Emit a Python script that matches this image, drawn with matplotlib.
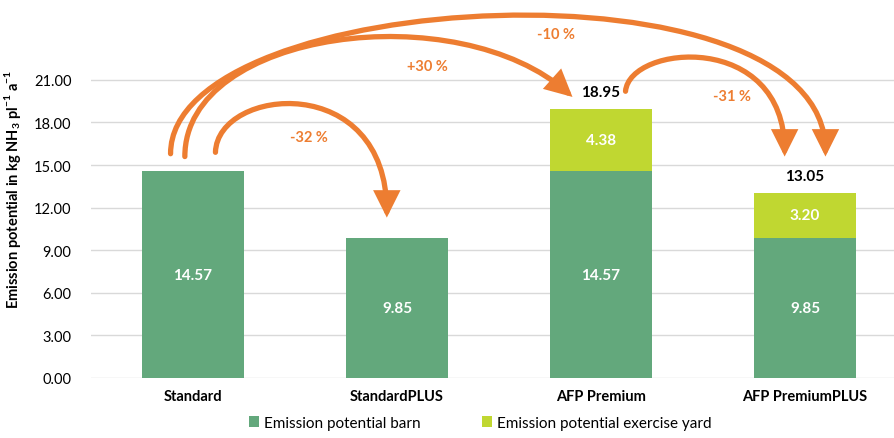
import matplotlib.pyplot as plt
import numpy as np
from matplotlib.patches import FancyArrowPatch
from matplotlib.path import Path

plt.rcParams['font.family'] = ['Lato', 'DejaVu Sans']
plt.rcParams['mathtext.fontset'] = 'custom'
plt.rcParams['mathtext.bf'] = 'Lato:bold'
plt.rcParams['mathtext.rm'] = 'Lato:bold'

categories = ["Standard", "StandardPLUS", "AFP Premium", "AFP PremiumPLUS"]
barn = [14.57, 9.85, 14.57, 9.85]
yard = [0, 0, 4.38, 3.20]
totals = [14.57, 9.85, 18.95, 13.05]
changes = ["-32 %", "+30 %", "-10 %", "-31 %"]

c_barn = "#63A87C"
c_yard = "#C0D731"
c_arrow = "#ED7D31"

fig = plt.figure(figsize=(8.94, 4.39), dpi=100)
ax = fig.add_axes([91 / 894, 60 / 439, 803 / 894, 379 / 439])

x = np.arange(len(categories))
ax.bar(x, barn, width=0.5, color=c_barn, label="Emission potential barn", zorder=2)
ax.bar(x, yard, width=0.5, bottom=barn, color=c_yard, label="Emission potential exercise yard", zorder=2)

# values inside the segments
for i in range(len(x)):
    ax.text(x[i], barn[i] / 2, f"{barn[i]:.2f}", ha="center", va="center",
            color="white", fontsize=11, fontweight="bold", zorder=3)
    if yard[i] > 0:
        ax.text(x[i], barn[i] + yard[i] / 2, f"{yard[i]:.2f}", ha="center", va="center",
                color="white", fontsize=11, fontweight="bold", zorder=3)
        ax.text(x[i], totals[i] + 1.2, f"{totals[i]:.2f}", ha="center", va="center",
                color="black", fontsize=11, fontweight="bold", zorder=3)

ax.set_xlim(-0.5, 3.436)
ax.set_ylim(0, 26.7)
ax.set_yticks(np.arange(0, 22, 3))
ax.set_yticklabels([f"{v:.2f}" for v in np.arange(0, 22, 3)], fontsize=10.5)
ax.set_xticks(x)
ax.set_xticklabels(categories, fontsize=10.5, fontweight="bold")
ax.tick_params(length=0, pad=8)
ax.tick_params(axis="y", pad=14)
ax.grid(axis="y", color="#D9D9D9", lw=1, zorder=0)
for s in ax.spines.values():
    s.set_visible(False)
ax.set_ylabel(r"Emission potential in kg NH$_\mathrm{3}$ pl$^\mathrm{-1}$ a$^\mathrm{-1}$",
              fontsize=10.5, fontweight="bold", labelpad=8)

# curved change arrows (cubic bezier in data coords)
arrows = [
    [(0.11, 15.9), (0.12, 20.5), (0.95, 21.7), (0.95, 11.3)],
    [(-0.04, 15.6), (-0.04, 24.5), (1.3, 27.0), (1.86, 19.8)],
    [(-0.11, 15.8), (-0.11, 27.5), (3.10, 30.0), (3.10, 15.6)],
    [(2.12, 20.2), (2.14, 23.5), (2.90, 24.5), (2.90, 15.6)],
]
for pts in arrows:
    p = Path(pts, [Path.MOVETO, Path.CURVE4, Path.CURVE4, Path.CURVE4])
    a = FancyArrowPatch(path=p, arrowstyle="-|>", mutation_scale=34, lw=3.8,
                        color=c_arrow, transform=ax.transData, zorder=4,
                        clip_on=False, joinstyle="miter")
    ax.add_patch(a)

label_pos = [(0.57, 17.0), (1.15, 22.0), (1.78, 24.2), (2.64, 19.9)]
for (lx, ly), t in zip(label_pos, changes):
    ax.text(lx, ly, t, ha="center", va="center", color=c_arrow, fontsize=10.5,
            fontweight="bold", zorder=5)

fig.legend(loc="lower center", bbox_to_anchor=(0.537, -0.012), ncol=2, frameon=False,
           fontsize=11, handlelength=0.7, handleheight=0.7, handletextpad=0.3,
           columnspacing=4.0)

fig.savefig("out.png", dpi=100)
